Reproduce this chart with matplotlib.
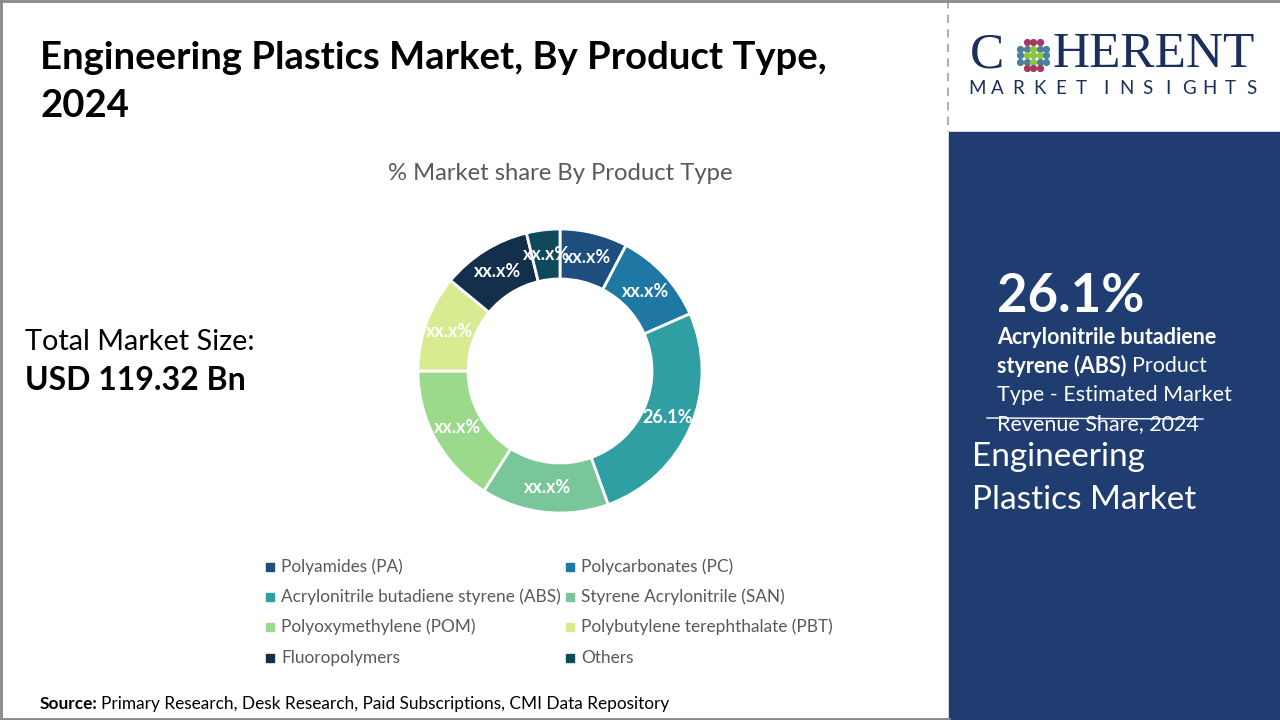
import matplotlib
matplotlib.use("Agg")
import matplotlib.pyplot as plt
import numpy as np
from matplotlib.patches import Rectangle

plt.rcParams['font.family'] = ['Lato', 'DejaVu Sans']

# ---- data ----
categories = ["Polyamides (PA)", "Polycarbonates (PC)",
              "Acrylonitrile butadiene styrene (ABS)", "Styrene Acrylonitrile (SAN)",
              "Polyoxymethylene (POM)", "Polybutylene terephthalate (PBT)",
              "Fluoropolymers", "Others"]
shares = [7.7, 10.7, 26.1, 14.5, 16.0, 11.0, 10.2, 3.8]
slice_labels = ["xx.x%", "xx.x%", "26.1%", "xx.x%", "xx.x%", "xx.x%", "xx.x%", "xx.x%"]
colors = ["#1d4e7e", "#1f78a3", "#2f9fa3", "#79c69a", "#9bd98b", "#d8eb90", "#142f4c", "#0f4a5c"]

W, H = 1280, 720
fig = plt.figure(figsize=(12.8, 7.2), dpi=100)
fig.patch.set_facecolor("white")

# overlay axes in pixel coords
ov = fig.add_axes([0, 0, 1, 1])
ov.set_xlim(0, W)
ov.set_ylim(H, 0)
ov.axis("off")

# right panel
ov.add_patch(Rectangle((949, 132), W - 949, H - 132, color="#1f3d70", zorder=0))
ov.plot([948, 948], [0, 132], color="#b0b0b0", lw=1.5, ls=(0, (4, 3)), zorder=1)
# borders
ov.plot([1, 1], [0, H], color="#888888", lw=2)
ov.plot([0, W], [1, 1], color="#888888", lw=2)
ov.plot([0, 949], [H - 1, H - 1], color="#888888", lw=2)

# title
ov.text(40, 58, "Engineering Plastics Market, By Product Type,", fontsize=27.5, fontweight="bold",
        color="black", va="center", ha="left")
ov.text(40, 106, "2024", fontsize=27.5, fontweight="bold", color="black", va="center", ha="left")

ov.text(560, 174, "% Market share By Product Type", fontsize=17.2, color="#595959",
        ha="center", va="center")

ov.text(25, 342, "Total Market Size:", fontsize=20.8, color="black", va="center", ha="left")
ov.text(25, 381, "USD 119.32 Bn", fontsize=23, fontweight="bold", color="black", va="center", ha="left")

# source
t = ov.text(40, 704, "Source:", fontsize=12.4, fontweight="bold", color="black", va="center", ha="left")
fig.canvas.draw()
bb = t.get_window_extent()
ov.text(40 + bb.width + 3, 704, "Primary Research, Desk Research, Paid Subscriptions, CMI Data Repository",
        fontsize=12.4, color="black", va="center", ha="left")

# right panel text
ov.text(997, 296, "26.1%", fontsize=38, fontweight="bold", color="white", va="center", ha="left")
ov.text(997, 337, "Acrylonitrile butadiene", fontsize=15.5, fontweight="bold", color="white", va="center", ha="left")
t2 = ov.text(997, 366, "styrene (ABS)", fontsize=15.5, fontweight="bold", color="white", va="center", ha="left")
fig.canvas.draw()
bb2 = t2.get_window_extent()
ov.text(997 + bb2.width + 6, 366, "Product", fontsize=15.5, color="white", va="center", ha="left")
ov.text(997, 395, "Type - Estimated Market", fontsize=15.5, color="white", va="center", ha="left")
ov.text(997, 424, "Revenue Share, 2024", fontsize=15.5, color="white", va="center", ha="left")
ov.plot([987, 1203], [418, 419], color="white", lw=1)
ov.text(972, 457, "Engineering", fontsize=24, color="white", va="center", ha="left")
ov.text(972, 500, "Plastics Market", fontsize=24, color="white", va="center", ha="left")

# logo
navy = "#1b2f5c"
ov.text(970, 55, "C", fontsize=37, family="Liberation Serif", color=navy, va="center", ha="left")
ov.text(1052, 55, "HERENT", fontsize=37, family="Liberation Serif", color=navy, va="center", ha="left")
letters = "MARKETINSIGHTS"
for k, ch in enumerate(letters):
    xk = 977 + k * 20.8 + (4 if k >= 6 else 0)
    ov.text(xk, 89, ch, fontsize=13.5, color=navy, va="center", ha="center")
gx, gy = 1033, 55
for i in range(-2, 3):
    for j in range(-2, 3):
        r = np.hypot(i, j)
        if r > 2.3:
            continue
        if r < 1.1:
            c = "#8cc540"
        elif abs(j) == 2:
            c = "#a33a63"
        else:
            c = "#4d7f9f"
        ov.plot(gx + i * 6.5, gy + j * 6.5, "o", ms=4.2, color=c)

# donut
cx, cy, R = 560, 371, 142
ax = fig.add_axes([(cx - R) / W, (H - cy - R) / H, 2 * R / W, 2 * R / H])
wedges, _ = ax.pie(shares, colors=colors, startangle=90, counterclock=False, radius=1,
                   wedgeprops=dict(width=50 / R, edgecolor="white", linewidth=2))
ax.set_xlim(-1, 1)
ax.set_ylim(-1, 1)
ax.set_aspect("auto")
ax.axis("off")
rl = 117 / R
for w, lab in zip(wedges, slice_labels):
    th = np.deg2rad((w.theta1 + w.theta2) / 2)
    ax.text(rl * np.cos(th), rl * np.sin(th), lab, ha="center", va="center",
            fontsize=13, fontweight="bold", color="white")

# legend
col_x = [270, 570]
row_y = [567, 597, 627, 658]
for k, (cat, c) in enumerate(zip(categories, colors)):
    x = col_x[k % 2]
    y = row_y[k // 2]
    ov.add_patch(Rectangle((x - 4, y - 4), 8, 8, color=c))
    ov.text(x + 11, y, cat, fontsize=12.4, color="#595959", va="center", ha="left")

fig.savefig("out.png", dpi=100)
